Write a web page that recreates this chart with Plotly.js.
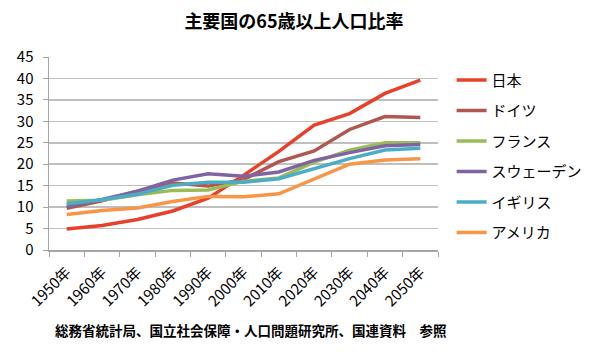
<!DOCTYPE html>
<html><head><meta charset="utf-8">
<script src="https://cdn.plot.ly/plotly-3.0.1.min.js"></script>
<style>html,body{margin:0;padding:0;background:#fff}</style>
</head><body>
<div id="chart" style="width:600px;height:363px"></div>
<script>
const years = ["1950年","1960年","1970年","1980年","1990年","2000年","2010年","2020年","2030年","2040年","2050年"];
const japan   = [4.9, 5.7, 7.1, 9.1, 12.1, 17.4, 23.0, 29.1, 31.8, 36.5, 39.6];
const germany = [9.7, 11.5, 13.7, 15.6, 14.9, 16.4, 20.6, 23.1, 28.1, 31.1, 30.9];
const france  = [11.4, 11.6, 12.9, 13.9, 14.0, 16.0, 16.8, 20.5, 23.3, 25.0, 25.0];
const sweden  = [10.2, 11.8, 13.7, 16.3, 17.8, 17.2, 18.2, 20.9, 22.7, 24.3, 24.6];
const uk      = [10.8, 11.7, 13.0, 15.1, 15.8, 15.8, 16.6, 19.0, 21.3, 23.3, 23.7];
const usa     = [8.3, 9.2, 9.8, 11.3, 12.5, 12.4, 13.1, 16.5, 20.0, 21.0, 21.3];
const names = ["日本","ドイツ","フランス","スウェーデン","イギリス","アメリカ"];
const series = [japan, germany, france, sweden, uk, usa];
const colors = ["#E8412B","#B0574F","#9BBB59","#8064A2","#4BACC6","#F79646"];

const font = "'Noto Sans CJK JP', 'Noto Sans', sans-serif";
const traces = series.map((s,i)=>({
  x: years, y: s, name: names[i], type: "scatter", mode: "lines",
  line: {color: colors[i], width: 3.5}, legendgroup: "g"+i
}));
const layout = {
  width: 600, height: 363,
  margin: {l: 49, r: 157, t: 57, b: 113},
  paper_bgcolor: "#fff", plot_bgcolor: "#fff",
  font: {family: font, color: "#000", size: 13},
  title: {text: "<b>主要国の65歳以上人口比率</b>", x: 0.49, xanchor: "center", y: 0.94, yanchor: "middle", font: {size: 18, family: font}},
  xaxis: {type: "category", tickson: "boundaries", ticks: "outside", ticklen: 5, tickcolor: "#a6a6a6",
          showline: true, linecolor: "#a6a6a6", linewidth: 1.5, showgrid: false, tickangle: -45,
          ticklabelstandoff: 6,
          tickfont: {size: 15, family: font}, range: [-0.5, 10.5], fixedrange: true},
  yaxis: {range: [0, 45], dtick: 5, ticks: "outside", ticklen: 5, tickcolor: "#a6a6a6",
          showline: true, linecolor: "#a6a6a6", linewidth: 1.5, gridcolor: "#bfbfbf", gridwidth: 1.5,
          zeroline: false, ticklabelstandoff: 6, tickfont: {size: 15, family: font}},
  showlegend: true,
  legend: {x: 1.035, xanchor: "left", y: 0.965, yanchor: "top", tracegroupgap: 8,
           font: {size: 15, family: font}, bgcolor: "rgba(0,0,0,0)"},
  annotations: [{text: "<b>総務省統計局、国立社会保障・人口問題研究所、国連資料　参照</b>", xref: "paper", yref: "paper",
                 x: 0.52, y: -0.415, xanchor: "center", yanchor: "middle", showarrow: false, font: {size: 13.5, family: font}}]
};
Plotly.newPlot("chart", traces, layout, {displayModeBar: false, staticPlot: true});
</script>
</body></html>
